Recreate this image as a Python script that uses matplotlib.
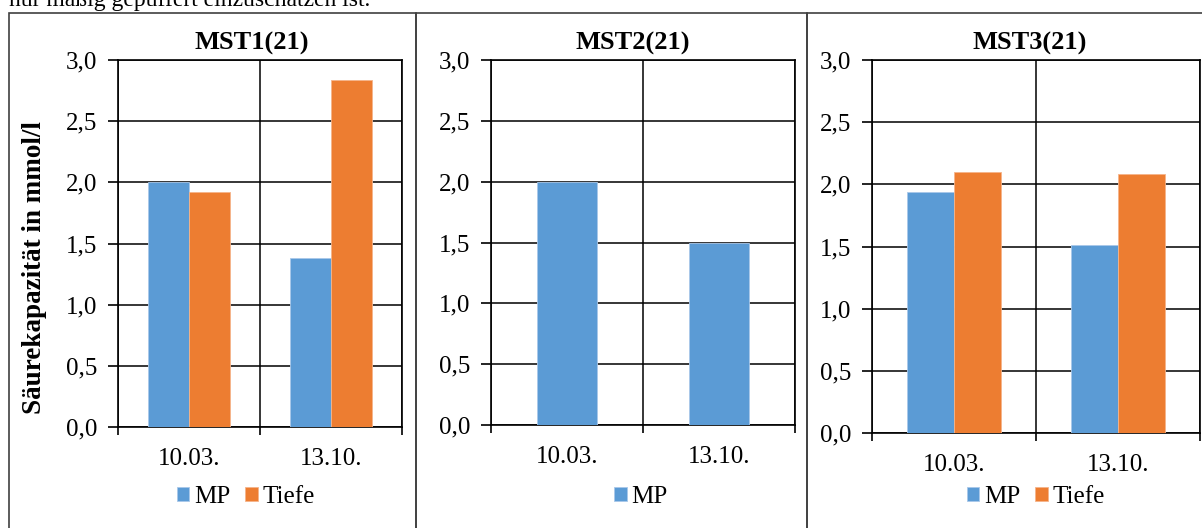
import matplotlib
matplotlib.use("Agg")
import matplotlib.pyplot as plt
from matplotlib.patches import Rectangle

# data
dates = ["10.03.", "13.10."]
titles = ["MST1(21)", "MST2(21)", "MST3(21)"]
mp = [[2.00, 1.38], [2.00, 1.50], [1.94, 1.51]]
tiefe = [[1.92, 2.84], None, [2.10, 2.08]]
yticks = [0.0, 0.5, 1.0, 1.5, 2.0, 2.5, 3.0]
ylabel = "Säurekapazität in mmol/l"
BLUE, ORANGE = "#5B9BD5", "#ED7D31"

W, H = 1202, 528
plt.rcParams.update({"font.family": ["Liberation Serif", "DejaVu Serif"],
                     "font.size": 18})
fig = plt.figure(figsize=(W / 100, H / 100), dpi=100)


def px(x0, y0, x1, y1):
    # pixel box -> figure fraction rect
    return [x0 / W, 1 - y1 / H, (x1 - x0) / W, (y1 - y0) / H]


# cut-off sentence from the report text above the charts
fig.text(9 / W, 1 - 6 / H, "nur mäßig gepuffert einzuschätzen ist.", fontsize=17,
         va="baseline", ha="left")

# panel frames
for x0, x1 in [(9, 416), (416, 807), (807, 1215)]:
    fig.add_artist(Rectangle((x0 / W, -0.1), (x1 - x0) / W, 1 - 13 / H + 0.1,
                             transform=fig.transFigure, fill=False,
                             edgecolor="#404040", lw=1.2))

axes_px = [(118, 60, 402, 427), (491, 60, 795, 425), (872, 60, 1200, 433)]
title_x = [252, 633, 1030]
legend_x = [246, 641, 1036]

for i, (box, ttl) in enumerate(zip(axes_px, titles)):
    ax = fig.add_axes(px(*box))
    x = [0.5, 1.5]
    if tiefe[i] is None:
        ax.bar(x, mp[i], width=0.4, color=BLUE, edgecolor="#a9c8ea", lw=0.6,
               label="MP", zorder=3)
    else:
        bw = 0.286
        ax.bar([v - bw / 2 for v in x], mp[i], width=bw, color=BLUE,
               edgecolor="#a9c8ea", lw=0.6, label="MP", zorder=3)
        ax.bar([v + bw / 2 for v in x], tiefe[i], width=bw, color=ORANGE,
               edgecolor="#f5b48a", lw=0.6, label="Tiefe", zorder=3)
    ax.set_xlim(0, 2)
    ax.set_ylim(0, 3)
    ax.set_yticks(yticks)
    ax.set_yticklabels([f"{v:.1f}".replace(".", ",") for v in yticks])
    ax.set_xticks([0, 1, 2])
    ax.set_xticklabels([])
    ax.set_xticks(x, minor=True)
    ax.set_xticklabels(dates, minor=True)
    ax.tick_params(axis="x", which="minor", length=0, pad=15)
    ax.tick_params(axis="x", which="major", length=6, width=1.2, direction="out")
    ax.tick_params(axis="y", length=7, width=1.2, pad=8)
    ax.grid(True, which="major", color="black", lw=1.1, zorder=1)
    for s in ax.spines.values():
        s.set_linewidth(1.2)
        s.set_color("black")
    fig.text(title_x[i] / W, 1 - 43 / H, ttl, fontsize=19, fontweight="bold",
             ha="center", va="center")
    h, l = ax.get_legend_handles_labels()
    fig.legend(h, l, loc="center", bbox_to_anchor=(legend_x[i] / W, 1 - 497 / H),
               ncol=2, frameon=False, handlelength=0.5, handleheight=0.5,
               handletextpad=0.2, columnspacing=0.6, fontsize=18)
    if i == 0:
        fig.text(35 / W, 1 - 268 / H, ylabel, rotation=90, fontsize=19.5,
                 fontweight="bold", ha="center", va="center")

fig.savefig("out.png", dpi=100)
